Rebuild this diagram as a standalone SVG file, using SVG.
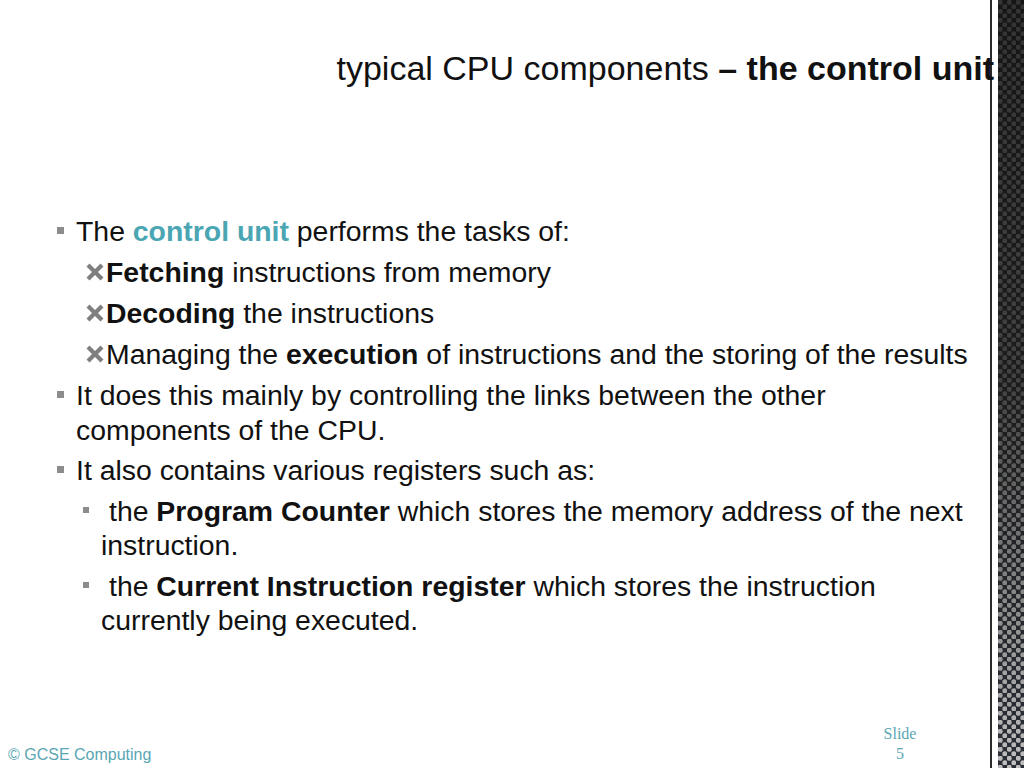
<svg xmlns="http://www.w3.org/2000/svg" width="1024" height="768" viewBox="0 0 1024 768">
<defs>
<style>
.t{font-family:"Liberation Sans",Arial,sans-serif;font-size:28.4px;fill:#111}
.b{font-weight:bold}
.hl{fill:#4ba6b3;font-weight:bold}
.sq{fill:#8c8c8c}
.x{fill:#7f7f7f}
</style>
<linearGradient id="strip" x1="0" y1="0" x2="0" y2="1">
<stop offset="0" stop-color="#161616"/>
<stop offset="0.5" stop-color="#1c1c1c"/>
<stop offset="1" stop-color="#2a2e36"/>
</linearGradient>
<linearGradient id="dotfade" x1="0" y1="0" x2="0" y2="1">
<stop offset="0" stop-color="#333333"/>
<stop offset="0.5" stop-color="#424242"/>
<stop offset="1" stop-color="#c0c0c0"/>
</linearGradient>
<pattern id="dia" width="9" height="9" patternUnits="userSpaceOnUse" x="998" y="0">
<ellipse cx="2.25" cy="2.25" rx="2.4" ry="2.6" fill="#fff"/>
<ellipse cx="6.75" cy="6.75" rx="2.4" ry="2.6" fill="#fff"/>
</pattern>
<mask id="dm"><rect x="998" y="0" width="26" height="768" fill="url(#dia)"/></mask>
<g id="xm"><path d="M-8.5,-5.5 L-5.5,-8.5 L0,-3 L5.5,-8.5 L8.5,-5.5 L3,0 L8.5,5.5 L5.5,8.5 L0,3 L-5.5,8.5 L-8.5,5.5 L-3,0 Z"/></g>
</defs>
<rect width="1024" height="768" fill="#fff"/>
<g id="border">
<rect x="990" y="0" width="2" height="768" fill="#2b2b2b"/>
<rect x="998" y="0" width="26" height="768" fill="url(#strip)"/>
<rect x="998" y="0" width="26" height="768" fill="url(#dotfade)" mask="url(#dm)"/>
</g>
<g id="title">
<text x="994" y="80" text-anchor="end" style="font-family:'Liberation Sans',Arial,sans-serif;font-size:34px;fill:#111">typical CPU components <tspan font-weight="bold">– the control unit</tspan></text>
</g>
<g id="body">
<rect class="sq" x="57" y="227" width="7" height="7"/>
<text class="t" x="76" y="241">The <tspan class="hl">control unit</tspan> performs the tasks of:</text>
<use href="#xm" class="x" x="95" y="272"/>
<text class="t" x="106" y="282"><tspan class="b">Fetching</tspan> instructions from memory</text>
<use href="#xm" class="x" x="95" y="313"/>
<text class="t" x="106" y="323"><tspan class="b">Decoding</tspan> the instructions</text>
<use href="#xm" class="x" x="95" y="354"/>
<text class="t" x="106" y="364">Managing the <tspan class="b">execution</tspan> of instructions and the storing of the results</text>
<rect class="sq" x="57" y="391" width="7" height="7"/>
<text class="t" x="76" y="405">It does this mainly by controlling the links between the other</text>
<text class="t" x="76" y="440">components of the CPU.</text>
<rect class="sq" x="57" y="466" width="7" height="7"/>
<text class="t" x="76" y="480">It also contains various registers such as:</text>
<rect class="sq" x="83" y="507" width="6" height="6"/>
<text class="t" x="109" y="521">the <tspan class="b">Program Counter</tspan> which stores the memory address of the next</text>
<text class="t" x="101" y="555">instruction.</text>
<rect class="sq" x="83" y="582" width="6" height="6"/>
<text class="t" x="109" y="596">the <tspan class="b">Current Instruction register</tspan> which stores the instruction</text>
<text class="t" x="101" y="630">currently being executed.</text>
</g>
<g id="footer">
<text x="8" y="760" style="font-family:'Liberation Sans',Arial,sans-serif;font-size:16px;fill:#5aa6b4">© GCSE Computing</text>
<text x="900" y="739" text-anchor="middle" style="font-family:'Liberation Serif','Times New Roman',serif;font-size:16px;fill:#5aa6b4">Slide</text>
<text x="900" y="759" text-anchor="middle" style="font-family:'Liberation Serif','Times New Roman',serif;font-size:16px;fill:#5aa6b4">5</text>
</g>
</svg>
